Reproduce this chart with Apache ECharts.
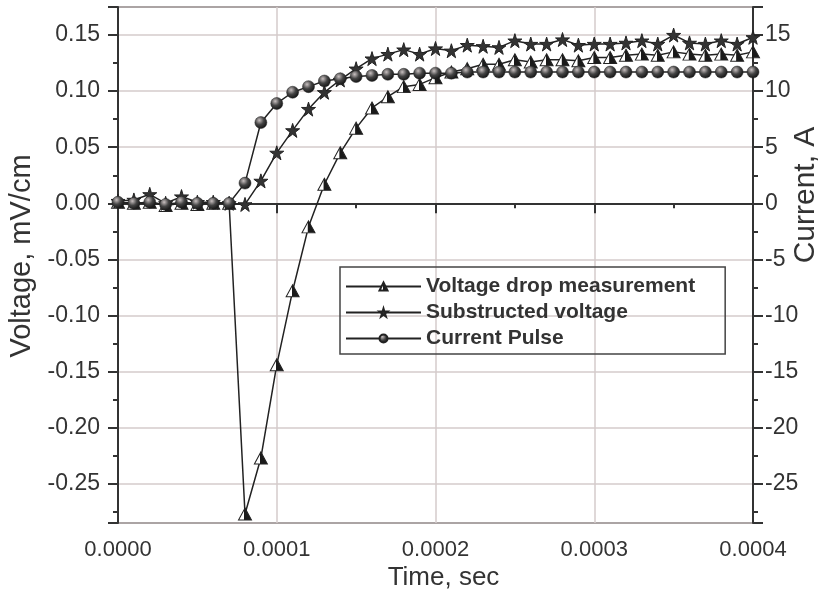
<!DOCTYPE html>
<html>
<head>
<meta charset="utf-8">
<script src="https://cdn.jsdelivr.net/npm/echarts@6/dist/echarts.min.js"></script>
<style>html,body{margin:0;padding:0;background:#fff;}#c{width:818px;height:598px;}</style>
</head>
<body>
<div id="c"></div>
<script>
var times = [0.00000,0.00001,0.00002,0.00003,0.00004,0.00005,0.00006,0.00007,0.00008,0.00009,
  0.00010,0.00011,0.00012,0.00013,0.00014,0.00015,0.00016,0.00017,0.00018,0.00019,
  0.00020,0.00021,0.00022,0.00023,0.00024,0.00025,0.00026,0.00027,0.00028,0.00029,
  0.00030,0.00031,0.00032,0.00033,0.00034,0.00035,0.00036,0.00037,0.00038,0.00039,0.00040];
var voltageDrop = [0.001,0.000,0.001,-0.002,0.000,-0.001,0.000,0.000,-0.277,-0.227,
  -0.144,-0.078,-0.021,0.017,0.045,0.067,0.085,0.095,0.104,0.106,
  0.112,0.117,0.120,0.124,0.124,0.128,0.126,0.128,0.128,0.127,
  0.130,0.130,0.132,0.133,0.132,0.135,0.133,0.132,0.133,0.132,0.135];
var substructed = [0.002,0.003,0.008,0.000,0.006,0.001,0.001,0.000,-0.001,0.020,
  0.045,0.065,0.084,0.099,0.110,0.120,0.129,0.133,0.137,0.133,
  0.138,0.136,0.141,0.140,0.139,0.145,0.142,0.142,0.146,0.141,
  0.142,0.142,0.143,0.145,0.142,0.150,0.143,0.142,0.145,0.142,0.148];
var currentPulse = [0.1,0.0,0.1,-0.1,0.1,0.0,0.0,0.0,1.8,7.2,
  8.9,9.9,10.4,10.9,11.1,11.3,11.4,11.5,11.5,11.6,
  11.6,11.6,11.7,11.7,11.7,11.7,11.7,11.7,11.7,11.7,
  11.7,11.7,11.7,11.7,11.7,11.7,11.7,11.7,11.7,11.7,11.7];
var seriesNames = ['Voltage drop measurement','Substructed voltage','Current Pulse'];
var xTitle = 'Time, sec', yLeftTitle = 'Voltage, mV/cm', yRightTitle = 'Current, A';

function pairs(ys){ return times.map(function(t,i){ return [t, ys[i]]; }); }

var txt = '#333';
var font = 'Liberation Sans, Arial, sans-serif';
var starPath = 'path://M50,0 L61,35 L98,35 L68,57 L79,91 L50,70 L21,91 L32,57 L2,35 L39,35 Z';
var triFill = {type:'linear',x:0,y:0,x2:1,y2:0,colorStops:[{offset:0,color:'#fff'},{offset:0.42,color:'#fff'},{offset:0.46,color:'#1a1a1a'},{offset:1,color:'#1a1a1a'}]};
var ballFill = {type:'radial',x:0.38,y:0.32,r:0.7,colorStops:[{offset:0,color:'#c8c0c0'},{offset:0.5,color:'#444'},{offset:1,color:'#111'}]};
var lineSt = {color:'#222', width:1.5};

var chart = echarts.init(document.getElementById('c'), null, {renderer:'canvas'});
chart.setOption({
  animation:false,
  backgroundColor:'#fff',
  textStyle:{fontFamily:font},
  grid:{left:118, right:65, top:7, bottom:75, show:true, borderColor:'#333', borderWidth:2,
    containLabel:false, outerBoundsMode:'none'},
  legend:{
    orient:'vertical', left:340, top:267,
    data:seriesNames,
    itemWidth:75, itemHeight:10, itemGap:5,
    padding:[9,30,5,5],
    borderColor:'#444', borderWidth:1.5,
    textStyle:{fontFamily:font, fontSize:21, fontWeight:'bold', color:txt}
  },
  xAxis:{
    type:'value', min:0, max:0.0004, splitNumber:4,
    name:xTitle, nameLocation:'middle', nameGap:42, nameMoveOverlap:false,
    nameTextStyle:{fontSize:26, color:txt, fontFamily:font, padding:[0,0,0,16]},
    axisLine:{show:true, lineStyle:{color:'#333', width:2}},
    axisTick:{show:true, inside:false, length:10, lineStyle:{color:'#333', width:2}},
    minorTick:{show:true, splitNumber:2, length:5, lineStyle:{color:'#333', width:2}},
    axisLabel:{fontSize:22, color:txt, margin:16, formatter:function(v){ return v.toFixed(4); }},
    splitLine:{show:true, lineStyle:{color:'#d4cbcb', width:1.5}}
  },
  yAxis:[{
    type:'value', position:'left', min:-0.285, max:0.175, splitNumber:9,
    name:yLeftTitle, nameLocation:'middle', nameGap:82, nameMoveOverlap:false,
    nameTextStyle:{fontSize:29, color:txt, fontFamily:font, padding:[0,0,0,18]},
    axisLine:{show:true, lineStyle:{color:'#333', width:2}},
    axisTick:{show:true, inside:false, length:10, lineStyle:{color:'#333', width:2}},
    minorTick:{show:true, splitNumber:2, length:5, lineStyle:{color:'#333', width:2}},
    axisLabel:{fontSize:23, color:txt, margin:18, showMinLabel:false, showMaxLabel:false,
      formatter:function(v){ return v.toFixed(2); }},
    splitLine:{show:true, lineStyle:{color:'#d4cbcb', width:1.5}}
  },{
    type:'value', position:'right', min:-28.5, max:17.5, splitNumber:9,
    name:yRightTitle, nameLocation:'middle', nameGap:38, nameRotate:90, nameMoveOverlap:false,
    nameTextStyle:{fontSize:30, color:txt, fontFamily:font, padding:[0,0,0,140]},
    axisLine:{show:true, lineStyle:{color:'#333', width:2}},
    axisTick:{show:true, inside:false, length:10, lineStyle:{color:'#333', width:2}},
    minorTick:{show:true, splitNumber:2, length:5, lineStyle:{color:'#333', width:2}},
    axisLabel:{fontSize:23, color:txt, margin:12, showMinLabel:false, showMaxLabel:false},
    splitLine:{show:false}
  }],
  series:[{
    name:seriesNames[0], type:'line', yAxisIndex:0, data:pairs(voltageDrop),
    symbol:'triangle', symbolSize:[13,12], showAllSymbol:true,
    lineStyle:lineSt, itemStyle:{color:triFill, borderColor:'#222', borderWidth:1}
  },{
    name:seriesNames[1], type:'line', yAxisIndex:0, data:pairs(substructed),
    symbol:starPath, symbolSize:14, showAllSymbol:true,
    lineStyle:lineSt, itemStyle:{color:'#333', borderColor:'#222', borderWidth:1}
  },{
    name:seriesNames[2], type:'line', yAxisIndex:1, data:pairs(currentPulse),
    symbol:'circle', symbolSize:12, showAllSymbol:true,
    lineStyle:lineSt, itemStyle:{color:ballFill, borderColor:'#222', borderWidth:0.5}
  }]
});
</script>
</body>
</html>
